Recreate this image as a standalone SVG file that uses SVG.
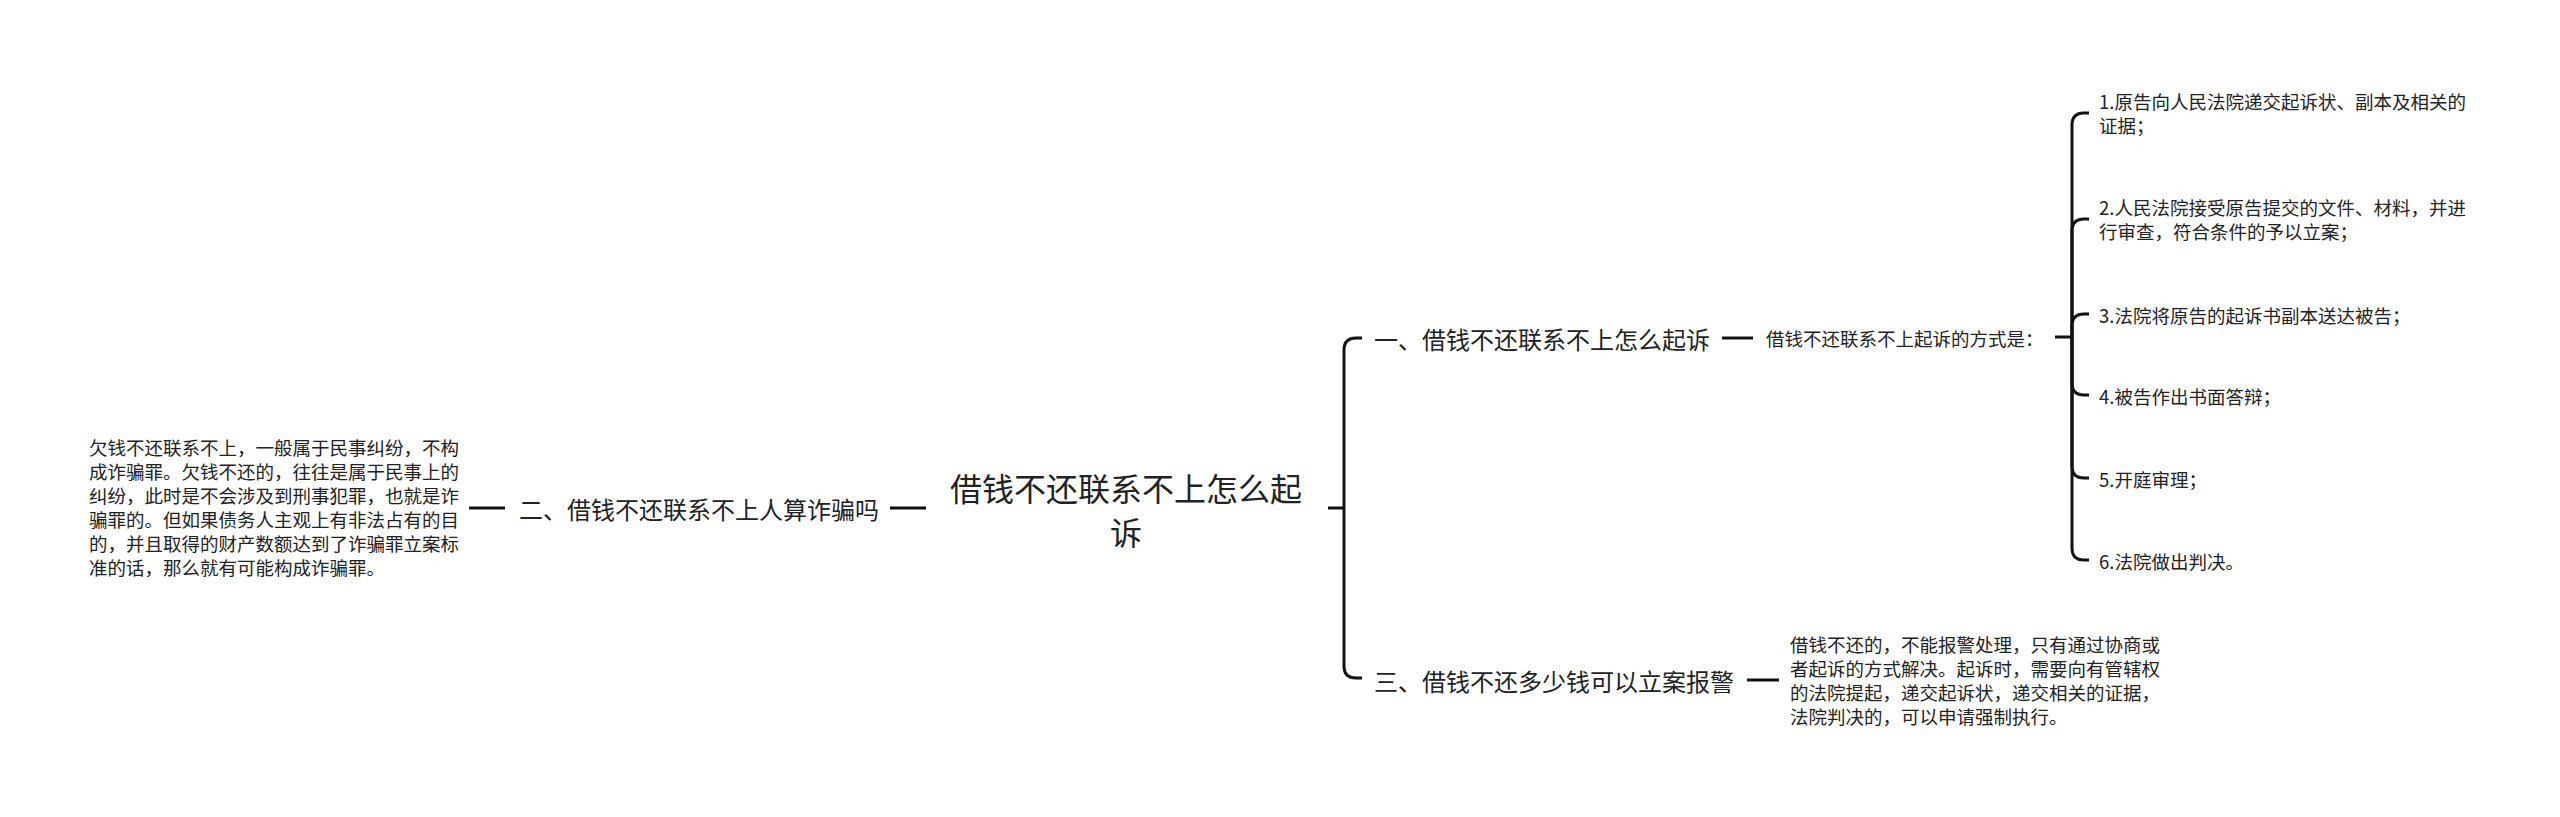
<svg xmlns="http://www.w3.org/2000/svg" width="2560" height="817" viewBox="0 0 2560 817">
<style>
text{font-family:"Noto Sans CJK SC","Microsoft YaHei",sans-serif;fill:#222;dominant-baseline:central}
.root{font-size:32px}
.main{font-size:24px}
.sm{font-size:18.5px}
.c{fill:none;stroke:#111;stroke-width:3;stroke-linecap:butt}
</style>
<rect width="2560" height="817" fill="#fff"/>
<g id="connectors">
<path class="c" d="M926 508 H890"/>
<path class="c" d="M505 508 H469"/>
<path class="c" d="M1328 508 H1344"/>
<path class="c" d="M1344 508 V350 Q1344 338 1356 338 H1362"/>
<path class="c" d="M1344 508 V666 Q1344 678 1356 678 H1362"/>
<path class="c" d="M1722 338 H1753"/>
<path class="c" d="M1747 680 H1779"/>
<path class="c" d="M2055 337 H2072"/>
<path class="c" d="M2072 337 V125 Q2072 113 2084 113 H2089"/>
<path class="c" d="M2072 337 V231 Q2072 219 2084 219 H2089"/>
<path class="c" d="M2072 337 V326 Q2072 314 2084 314 H2089"/>
<path class="c" d="M2072 337 V383 Q2072 395 2084 395 H2089"/>
<path class="c" d="M2072 337 V466 Q2072 478 2084 478 H2089"/>
<path class="c" d="M2072 337 V548 Q2072 560 2084 560 H2089"/>
</g>
<g id="root">
<text class="root" x="1126" y="487" text-anchor="middle">借钱不还联系不上怎么起</text>
<text class="root" x="1126" y="531" text-anchor="middle">诉</text>
</g>
<g id="n2">
<text class="main" x="519" y="508">二、借钱不还联系不上人算诈骗吗</text>
</g>
<g id="n2-detail">
<text class="sm" x="89" y="447">欠钱不还联系不上，一般属于民事纠纷，不构</text>
<text class="sm" x="89" y="471">成诈骗罪。欠钱不还的，往往是属于民事上的</text>
<text class="sm" x="89" y="495">纠纷，此时是不会涉及到刑事犯罪，也就是诈</text>
<text class="sm" x="89" y="519">骗罪的。但如果债务人主观上有非法占有的目</text>
<text class="sm" x="89" y="543">的，并且取得的财产数额达到了诈骗罪立案标</text>
<text class="sm" x="89" y="567">准的话，那么就有可能构成诈骗罪。</text>
</g>
<g id="n1">
<text class="main" x="1374" y="338">一、借钱不还联系不上怎么起诉</text>
</g>
<g id="n1-way">
<text class="sm" x="1766" y="338">借钱不还联系不上起诉的方式是：</text>
</g>
<g id="step1">
<text class="sm" x="2099" y="101">1.原告向人民法院递交起诉状、副本及相关的</text>
<text class="sm" x="2099" y="125">证据；</text>
</g>
<g id="step2">
<text class="sm" x="2099" y="207">2.人民法院接受原告提交的文件、材料，并进</text>
<text class="sm" x="2099" y="231">行审查，符合条件的予以立案；</text>
</g>
<g id="step3">
<text class="sm" x="2099" y="315">3.法院将原告的起诉书副本送达被告；</text>
</g>
<g id="step4">
<text class="sm" x="2099" y="396">4.被告作出书面答辩；</text>
</g>
<g id="step5">
<text class="sm" x="2099" y="479">5.开庭审理；</text>
</g>
<g id="step6">
<text class="sm" x="2099" y="561">6.法院做出判决。</text>
</g>
<g id="n3">
<text class="main" x="1374" y="680">三、借钱不还多少钱可以立案报警</text>
</g>
<g id="n3-detail">
<text class="sm" x="1790" y="644">借钱不还的，不能报警处理，只有通过协商或</text>
<text class="sm" x="1790" y="668">者起诉的方式解决。起诉时，需要向有管辖权</text>
<text class="sm" x="1790" y="692">的法院提起，递交起诉状，递交相关的证据，</text>
<text class="sm" x="1790" y="716">法院判决的，可以申请强制执行。</text>
</g>
</svg>
